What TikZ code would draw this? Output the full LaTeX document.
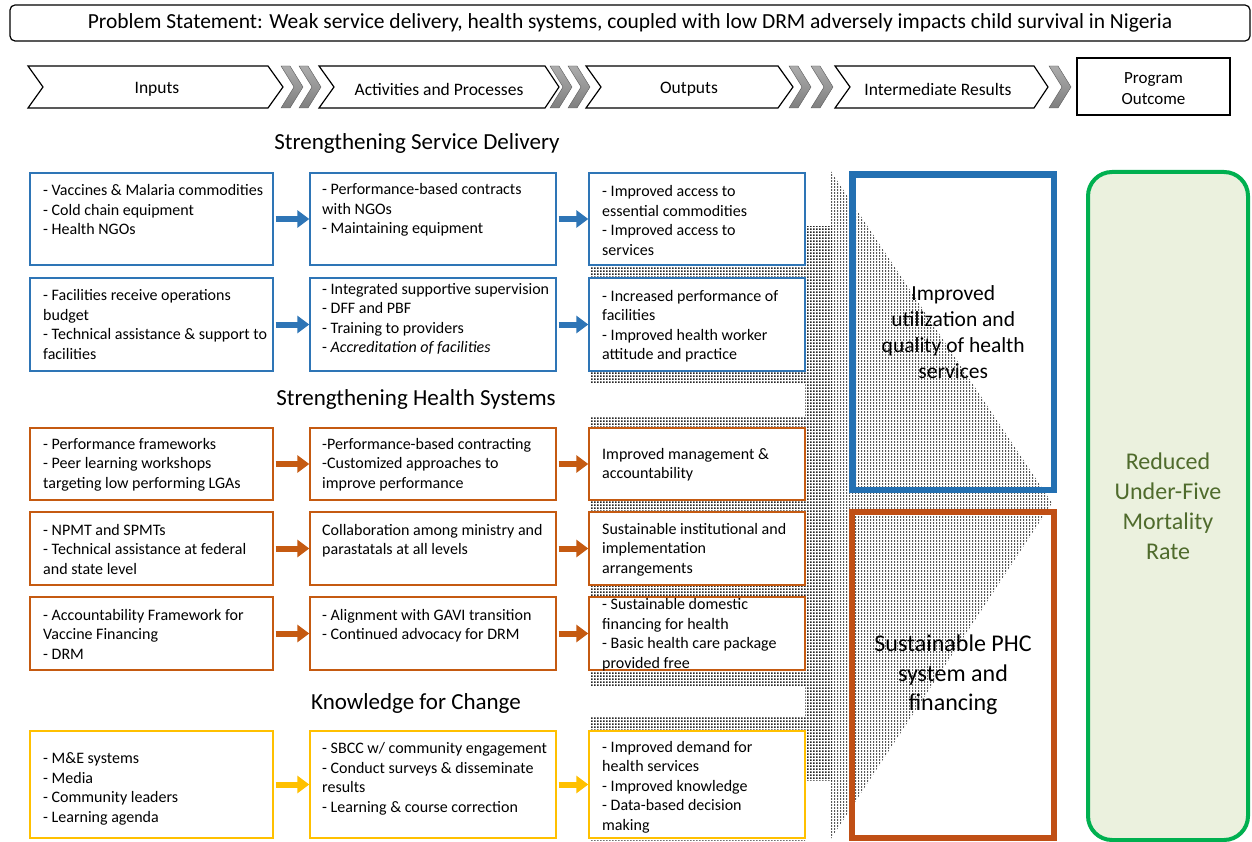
\documentclass[tikz,border=0pt]{standalone}
\usepackage{fontspec}
\setmainfont{Carlito}
\usetikzlibrary{arrows.meta,patterns}
\definecolor{cblue}{HTML}{2E75B6}
\definecolor{corange}{HTML}{C55A11}
\definecolor{cyellow}{HTML}{FFC000}
\definecolor{cgreen}{HTML}{00B050}
\definecolor{cgreenfill}{HTML}{EBF1DE}
\definecolor{cgreentext}{HTML}{4F6B2C}
\definecolor{bigblue}{HTML}{2370B2}
\definecolor{bigorange}{HTML}{C04F15}
\pgfdeclarepatternformonly{densedots}{\pgfpointorigin}{\pgfqpoint{3pt}{3pt}}{\pgfqpoint{3pt}{3pt}}{\pgfpathrectangle{\pgfpointorigin}{\pgfqpoint{2.2pt}{2.2pt}}\pgfusepath{fill}}
\pgfdeclarepatternformonly{lightdots}{\pgfpointorigin}{\pgfqpoint{3pt}{3pt}}{\pgfqpoint{3pt}{3pt}}{\pgfpathrectangle{\pgfpointorigin}{\pgfqpoint{1.5pt}{2.4pt}}\pgfusepath{fill}}
\begin{document}
\begin{tikzpicture}[x=1pt,y=-1pt,
  boxtxt/.style={font=\fontsize{16}{19.5}\selectfont, align=left, inner sep=0pt, anchor=west},
  sbox/.style={draw=#1, line width=1.4pt, fill=white, inner sep=0pt},
  c1/.style={minimum width=243pt},
  c2/.style={minimum width=246pt},
  c3/.style={minimum width=216pt},
  barrow/.style={draw=#1, line width=6pt, -{Triangle[length=12pt,width=17pt]}, shorten <=2pt},
  chev/.style={draw=black, line width=1.2pt, fill=white, line join=miter},
  gchev/.style={draw=gray!70!black, line width=0.4pt, top color=gray!65, bottom color=gray!100},
  chevlabel/.style={font=\fontsize{17.5}{21}\selectfont, inner sep=0pt},
  section/.style={font=\fontsize{23}{27}\selectfont, inner sep=0pt},
  shaft/.style={pattern=densedots, pattern color=black!85},
  head/.style={pattern=lightdots, pattern color=black!65}
]
\useasboundingbox (0,0) rectangle (1252,842);
\fill[white] (0,0) rectangle (1252,842);

% problem statement
\node[draw, line width=1.2pt, rounded corners=5pt, minimum width=1240pt, minimum height=36pt, inner sep=0pt,
  font=\fontsize{21.5}{25}\selectfont] (ps) at (630,23) {Problem Statement: Weak service delivery, health systems, coupled with low DRM adversely impacts child survival in Nigeria};

% gray chevrons
\foreach \x in {281,299,550,568,789,811,1049}{
  \draw[gchev] (\x,66) -- ++(9,0) -- ++(13,21) -- ++(-13,21) -- ++(-9,0) -- ++(13,-21) -- cycle;
}
% white chevrons
\draw[chev] (28,66) -- (268,66) -- (283,87) -- (268,108) -- (28,108) -- (43,87) -- cycle;
\draw[chev] (319,66) -- (545,66) -- (559,87) -- (545,108) -- (319,108) -- (334,87) -- cycle;
\draw[chev] (586,66) -- (778,66) -- (793,87) -- (778,108) -- (586,108) -- (601,87) -- cycle;
\draw[chev] (835,66) -- (1034,66) -- (1048,87) -- (1034,108) -- (835,108) -- (850,87) -- cycle;
\node[chevlabel] (lin) at (157,89) {Inputs};
\node[chevlabel] (lact) at (439,89) {Activities and Processes};
\node[chevlabel] (lout) at (689,89) {Outputs};
\node[chevlabel] (lint) at (938,89) {Intermediate Results};
\node[draw, line width=1.2pt, minimum width=153pt, minimum height=57pt, inner sep=0pt] (po) at (1153.5,86.5) {};
\node[align=center, inner sep=0pt, font=\fontsize{17}{21}\selectfont] (potxt) at (1153.5,89) {Program\\Outcome};

% section titles
\node[section] (s1) at (417,143) {Strengthening Service Delivery};
\node[section] (s2) at (416,399) {Strengthening Health Systems};
\node[section] (s3) at (416,703) {Knowledge for Change};

% big stippled arrow
\fill[head] (830,170) -- (1052,503) -- (830,840) -- cycle;
\fill[shaft] (805,227) rectangle (832,780);
\fill[shaft] (590,227) rectangle (805,383);
\fill[shaft] (590,417) rectangle (805,685);
\fill[shaft] (590,717) rectangle (805,840);

% boxes row 1
\node[sbox=cblue, c1, minimum height=92pt] (a1) at (151.5,219) {};
\node[sbox=cblue, c2, minimum height=92pt] (b1) at (433,219) {};
\node[sbox=cblue, c3, minimum height=92pt] (o1) at (697,219) {};
% row 2
\node[sbox=cblue, c1, minimum height=93pt] (a2) at (151.5,324.5) {};
\node[sbox=cblue, c2, minimum height=93pt] (b2) at (433,324.5) {};
\node[sbox=cblue, c3, minimum height=93pt] (o2) at (697,324.5) {};
% row 3
\node[sbox=corange, c1, minimum height=72pt] (a3) at (151.5,464) {};
\node[sbox=corange, c2, minimum height=72pt] (b3) at (433,464) {};
\node[sbox=corange, c3, minimum height=72pt] (o3) at (697,464) {};
% row 4
\node[sbox=corange, c1, minimum height=73pt] (a4) at (151.5,548.5) {};
\node[sbox=corange, c2, minimum height=73pt] (b4) at (433,548.5) {};
\node[sbox=corange, c3, minimum height=73pt] (o4) at (697,548.5) {};
% row 5
\node[sbox=corange, c1, minimum height=73pt] (a5) at (151.5,633.5) {};
\node[sbox=corange, c2, minimum height=73pt] (b5) at (433,633.5) {};
\node[sbox=corange, c3, minimum height=73pt] (o5) at (697,633.5) {};
% row 6
\node[sbox=cyellow, c1, minimum height=107pt] (a6) at (151.5,784.5) {};
\node[sbox=cyellow, c2, minimum height=107pt] (b6) at (433,784.5) {};
\node[sbox=cyellow, c3, minimum height=107pt] (o6) at (697,784.5) {};

% texts
\node[boxtxt] (ta1) at (43,210) {- Vaccines \& Malaria commodities\\- Cold chain equipment\\- Health NGOs};
\node[boxtxt] (tb1) at (322,210) {- Performance-based contracts\\with NGOs\\- Maintaining equipment};
\node[boxtxt] (to1) at (602,220.5) {- Improved access to\\essential commodities\\- Improved access to\\services};
\node[boxtxt] (ta2) at (43,324.5) {- Facilities receive operations\\budget\\- Technical assistance \& support to\\facilities};
\node[boxtxt] (tb2) at (322,319) {- Integrated supportive supervision\\- DFF and PBF\\- Training to providers\\- \textit{Accreditation of facilities}};
\node[boxtxt] (to2) at (602,326) {- Increased performance of\\facilities\\- Improved health worker\\attitude and practice};
\node[boxtxt] (ta3) at (43,464.5) {- Performance frameworks\\- Peer learning workshops\\targeting low performing LGAs};
\node[boxtxt] (tb3) at (322,464.5) {-Performance-based contracting\\-Customized approaches to\\improve performance};
\node[boxtxt] (to3) at (602,464.5) {Improved management \&\\accountability};
\node[boxtxt] (ta4) at (43,549) {- NPMT and SPMTs\\- Technical assistance at federal\\and state level};
\node[boxtxt] (tb4) at (322,540.5) {Collaboration among ministry and\\parastatals at all levels};
\node[boxtxt] (to4) at (602,549.5) {Sustainable institutional and\\implementation\\arrangements};
\node[boxtxt] (ta5) at (43,634) {- Accountability Framework for\\Vaccine Financing\\- DRM};
\node[boxtxt] (tb5) at (322,625.5) {- Alignment with GAVI transition\\- Continued advocacy for DRM};
\node[boxtxt] (to5) at (602,634.5) {- Sustainable domestic\\financing for health\\- Basic health care package\\provided free};
\node[boxtxt] (ta6) at (43,789) {- M\&E systems\\- Media\\- Community leaders\\- Learning agenda};
\node[boxtxt] (tb6) at (322,779) {- SBCC w/ community engagement\\- Conduct surveys \& disseminate\\results\\- Learning \& course correction};
\node[boxtxt] (to6) at (602,787) {- Improved demand for\\health services\\- Improved knowledge\\- Data-based decision\\making};

% arrows
\draw[barrow=cblue] (a1.east) -- (b1.west);
\draw[barrow=cblue] (b1.east) -- (o1.west);
\draw[barrow=cblue] (a2.east) -- (b2.west);
\draw[barrow=cblue] (b2.east) -- (o2.west);
\draw[barrow=corange] (a3.east) -- (b3.west);
\draw[barrow=corange] (b3.east) -- (o3.west);
\draw[barrow=corange] (a4.east) -- (b4.west);
\draw[barrow=corange] (b4.east) -- (o4.west);
\draw[barrow=corange] (a5.east) -- (b5.west);
\draw[barrow=corange] (b5.east) -- (o5.west);
\draw[barrow=cyellow] (a6.east) -- (b6.west);
\draw[barrow=cyellow] (b6.east) -- (o6.west);

% intermediate results
\node[draw=bigblue, line width=6.5pt, minimum width=201.5pt, minimum height=315.5pt, inner sep=0pt, align=center,
  font=\fontsize{21.5}{26}\selectfont] (ir1) at (953.25,332.25) {Improved\\utilization and\\quality of health\\services};
\node[draw=bigorange, line width=6.5pt, minimum width=202pt, minimum height=326pt, inner sep=0pt, align=center,
  font=\fontsize{24}{29.5}\selectfont] (ir2) at (953,675) {Sustainable PHC\\system and\\financing};

% program outcome
\node[draw=cgreen, fill=cgreenfill, line width=4pt, rounded corners=24pt, minimum width=160pt, minimum height=668pt,
  inner sep=0pt, align=center, text=cgreentext, font=\fontsize{24}{30}\selectfont] (out) at (1168,506)
  {Reduced\\Under-Five\\Mortality\\Rate};
\end{tikzpicture}
\end{document}
